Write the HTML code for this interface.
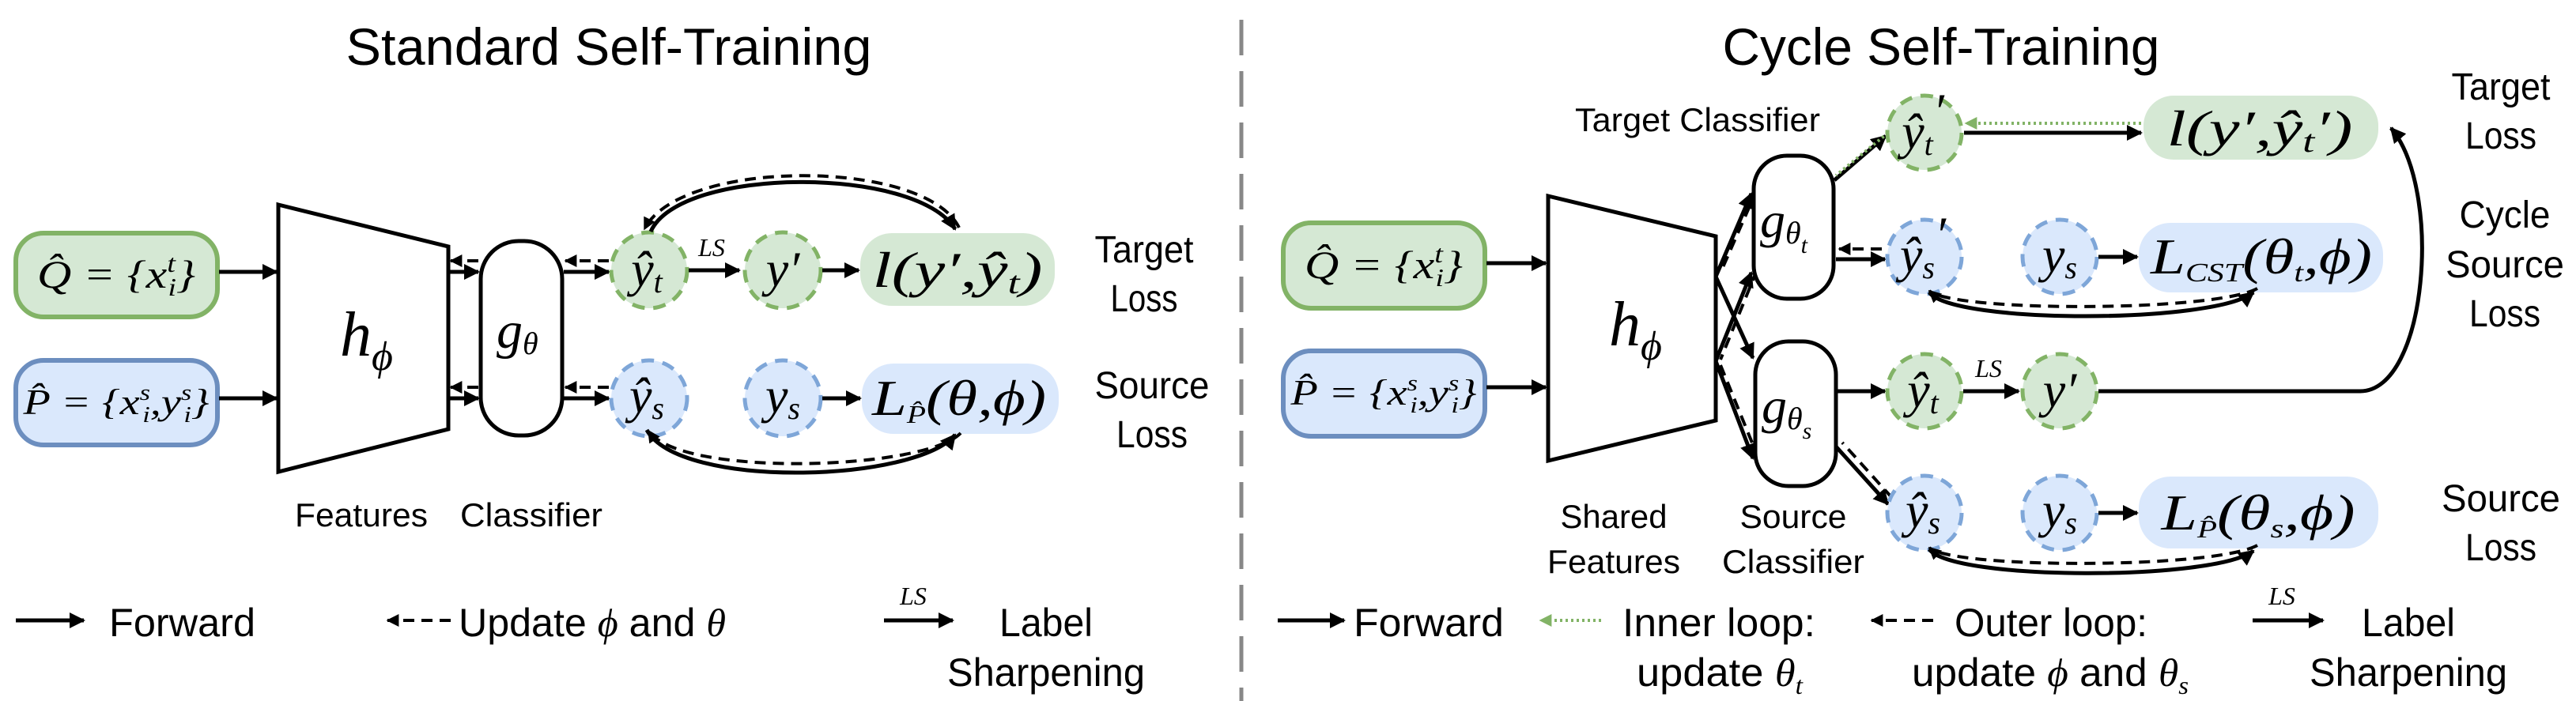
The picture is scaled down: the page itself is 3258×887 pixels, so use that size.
<!DOCTYPE html>
<html><head><meta charset="utf-8"><style>
html,body{margin:0;padding:0;background:#fff;}
svg{display:block;}
text{font-family:"Liberation Sans",sans-serif;fill:#000;}
.m{font-family:"Liberation Serif",serif;font-style:italic;}
</style></head><body>
<svg width="3258" height="887" viewBox="0 0 3258 887" xmlns="http://www.w3.org/2000/svg">
<defs>
<marker id="a" viewBox="0 0 10 10" refX="9" refY="5" markerWidth="4" markerHeight="4" orient="auto-start-reverse"><path d="M0,0 L10,5 L0,10 z" fill="#000"/></marker>
<marker id="g" viewBox="0 0 10 10" refX="9" refY="5" markerWidth="4" markerHeight="4" orient="auto-start-reverse"><path d="M0,0 L10,5 L0,10 z" fill="#82b366"/></marker>
</defs>
<style>
.ln{stroke:#000;stroke-width:5;fill:none;}
.dl{stroke:#000;stroke-width:4;fill:none;stroke-dasharray:14 9;}
.gc{fill:#d5e8d4;stroke:#82b366;stroke-width:5;stroke-dasharray:16 11;}
.bc{fill:#dae8fc;stroke:#7ea6d8;stroke-width:5;stroke-dasharray:16 11;}
</style>

<line x1="1570" y1="25" x2="1570" y2="887" stroke="#888" stroke-width="5" stroke-dasharray="45 20"/>

<!-- LEFT -->
<text x="770" y="82" font-size="66" text-anchor="middle" textLength="665" lengthAdjust="spacingAndGlyphs">Standard Self-Training</text>

<rect x="20" y="295" width="255" height="106" rx="35" fill="#d5e8d4" stroke="#82b366" stroke-width="6"/>
<text class="m" x="147" y="364" font-size="50" text-anchor="middle" textLength="200" lengthAdjust="spacingAndGlyphs">Q̂ = {x<tspan font-size="32" dy="-20">t</tspan><tspan font-size="32" dx="-8" dy="30">i</tspan><tspan dy="-10">}</tspan></text>
<rect x="20" y="456" width="255" height="107" rx="35" fill="#dae8fc" stroke="#6c8ebf" stroke-width="6"/>
<text class="m" x="147" y="524" font-size="46" text-anchor="middle" textLength="235" lengthAdjust="spacingAndGlyphs">P̂ = {x<tspan font-size="28" dy="-18">s</tspan><tspan font-size="28" dx="-8" dy="28">i</tspan><tspan dy="-10">,y</tspan><tspan font-size="28" dy="-18">s</tspan><tspan font-size="28" dx="-8" dy="28">i</tspan><tspan dy="-10">}</tspan></text>

<line class="ln" x1="277" y1="344" x2="350" y2="344" marker-end="url(#a)"/>
<line class="ln" x1="277" y1="504" x2="350" y2="504" marker-end="url(#a)"/>

<polygon points="352,259 567,312 567,543 352,597" fill="#fff" stroke="#000" stroke-width="5"/>
<text class="m" x="430" y="450" font-size="80">h<tspan font-size="52" dy="18">ϕ</tspan></text>

<line class="ln" x1="568" y1="344" x2="605" y2="344" marker-end="url(#a)"/>
<line class="dl" x1="605" y1="330" x2="570" y2="330" marker-end="url(#a)"/>
<line class="ln" x1="568" y1="504" x2="605" y2="504" marker-end="url(#a)"/>
<line class="dl" x1="605" y1="490" x2="570" y2="490" marker-end="url(#a)"/>

<rect x="608" y="305" width="103" height="246" rx="48" fill="#fff" stroke="#000" stroke-width="5"/>
<text class="m" x="628" y="440" font-size="66">g<tspan font-size="40" dy="8">θ</tspan></text>

<line class="ln" x1="713" y1="344" x2="770" y2="344" marker-end="url(#a)"/>
<line class="dl" x1="770" y1="330" x2="715" y2="330" marker-end="url(#a)"/>
<line class="ln" x1="713" y1="504" x2="770" y2="504" marker-end="url(#a)"/>
<line class="dl" x1="770" y1="490" x2="715" y2="490" marker-end="url(#a)"/>

<circle class="gc" cx="821" cy="342" r="48"/>
<text class="m" x="818" y="362" font-size="64" text-anchor="middle">ŷ<tspan font-size="40" dy="8">t</tspan></text>
<line class="ln" x1="871" y1="342" x2="935" y2="342" marker-end="url(#a)"/>
<text class="m" x="900" y="324" font-size="32" text-anchor="middle">LS</text>
<circle class="gc" cx="990" cy="342" r="48"/>
<text class="m" x="990" y="362" font-size="64" text-anchor="middle">y′</text>
<line class="ln" x1="1040" y1="342" x2="1086" y2="342" marker-end="url(#a)"/>
<rect x="1088" y="295" width="246" height="92" rx="40" fill="#d5e8d4"/>
<text class="m" x="1211" y="363" font-size="64" text-anchor="middle" textLength="215" lengthAdjust="spacingAndGlyphs">l(y′,ŷ<tspan font-size="40" dy="8">t</tspan><tspan dy="-8">)</tspan></text>
<text x="1447" y="332" font-size="48" text-anchor="middle" textLength="125" lengthAdjust="spacingAndGlyphs">Target</text>
<text x="1447" y="394" font-size="48" text-anchor="middle" textLength="85" lengthAdjust="spacingAndGlyphs">Loss</text>

<circle class="bc" cx="821" cy="504" r="48"/>
<text class="m" x="818" y="522" font-size="64" text-anchor="middle">ŷ<tspan font-size="40" dy="8">s</tspan></text>
<circle class="bc" cx="990" cy="504" r="48"/>
<text class="m" x="990" y="522" font-size="64" text-anchor="middle">y<tspan font-size="40" dy="8">s</tspan></text>
<line class="ln" x1="1040" y1="504" x2="1088" y2="504" marker-end="url(#a)"/>
<rect x="1090" y="460" width="249" height="89" rx="40" fill="#dae8fc"/>
<text class="m" x="1213" y="525" font-size="64" text-anchor="middle" textLength="220" lengthAdjust="spacingAndGlyphs">L<tspan font-size="32" dy="10">P̂</tspan><tspan dy="-10">(θ,ϕ)</tspan></text>
<text x="1457" y="504" font-size="48" text-anchor="middle" textLength="145" lengthAdjust="spacingAndGlyphs">Source</text>
<text x="1457" y="566" font-size="48" text-anchor="middle" textLength="90" lengthAdjust="spacingAndGlyphs">Loss</text>

<path class="ln" d="M823,293 C860,210 1160,210 1208,290" marker-end="url(#a)"/>
<path class="dl" d="M1213,288 C1170,200 860,200 815,290" marker-end="url(#a)"/>
<path class="ln" d="M818,544 C860,620 1160,610 1208,550" marker-end="url(#a)"/>
<path class="dl" d="M1215,548 C1170,595 860,605 820,545" marker-end="url(#a)"/>

<text x="457" y="666" font-size="42" text-anchor="middle" textLength="168" lengthAdjust="spacingAndGlyphs">Features</text>
<text x="672" y="666" font-size="42" text-anchor="middle" textLength="180" lengthAdjust="spacingAndGlyphs">Classifier</text>

<line class="ln" x1="20" y1="785" x2="106" y2="785" marker-end="url(#a)"/>
<text x="138" y="805" font-size="50" textLength="185" lengthAdjust="spacingAndGlyphs">Forward</text>
<line class="dl" x1="570" y1="785" x2="490" y2="785" marker-end="url(#a)"/>
<text x="580" y="805" font-size="50" textLength="338" lengthAdjust="spacingAndGlyphs">Update <tspan class="m">ϕ</tspan> and <tspan class="m">θ</tspan></text>
<line class="ln" x1="1118" y1="785" x2="1205" y2="785" marker-end="url(#a)"/>
<text class="m" x="1155" y="765" font-size="32" text-anchor="middle">LS</text>
<text x="1323" y="805" font-size="50" text-anchor="middle" textLength="118" lengthAdjust="spacingAndGlyphs">Label</text>
<text x="1323" y="868" font-size="50" text-anchor="middle" textLength="250" lengthAdjust="spacingAndGlyphs">Sharpening</text>

<!-- RIGHT -->
<text x="2455" y="82" font-size="66" text-anchor="middle" textLength="553" lengthAdjust="spacingAndGlyphs">Cycle Self-Training</text>

<rect x="1623" y="282" width="255" height="108" rx="35" fill="#d5e8d4" stroke="#82b366" stroke-width="6"/>
<text class="m" x="1750" y="352" font-size="50" text-anchor="middle" textLength="200" lengthAdjust="spacingAndGlyphs">Q̂ = {x<tspan font-size="32" dy="-20">t</tspan><tspan font-size="32" dx="-8" dy="30">i</tspan><tspan dy="-10">}</tspan></text>
<rect x="1623" y="444" width="255" height="108" rx="35" fill="#dae8fc" stroke="#6c8ebf" stroke-width="6"/>
<text class="m" x="1750" y="512" font-size="46" text-anchor="middle" textLength="235" lengthAdjust="spacingAndGlyphs">P̂ = {x<tspan font-size="28" dy="-18">s</tspan><tspan font-size="28" dx="-8" dy="28">i</tspan><tspan dy="-10">,y</tspan><tspan font-size="28" dy="-18">s</tspan><tspan font-size="28" dx="-8" dy="28">i</tspan><tspan dy="-10">}</tspan></text>

<line class="ln" x1="1880" y1="333" x2="1955" y2="333" marker-end="url(#a)"/>
<line class="ln" x1="1880" y1="490" x2="1955" y2="490" marker-end="url(#a)"/>

<polygon points="1958,248 2170,299 2170,532 1958,583" fill="#fff" stroke="#000" stroke-width="5"/>
<text class="m" x="2035" y="437" font-size="80">h<tspan font-size="52" dy="18">ϕ</tspan></text>

<line class="ln" x1="2170" y1="350" x2="2215" y2="245" marker-end="url(#a)"/>
<line class="dl" x1="2222" y1="240" x2="2176" y2="345"/>
<line class="ln" x1="2170" y1="350" x2="2217" y2="453" marker-end="url(#a)"/>
<line class="ln" x1="2170" y1="457" x2="2215" y2="345" marker-end="url(#a)"/>
<line class="dl" x1="2222" y1="342" x2="2176" y2="455"/>
<line class="ln" x1="2170" y1="457" x2="2217" y2="580" marker-end="url(#a)"/>
<line class="dl" x1="2176" y1="462" x2="2222" y2="575"/>

<rect x="2218" y="197" width="101" height="181" rx="42" fill="#fff" stroke="#000" stroke-width="5"/>
<text class="m" x="2226" y="300" font-size="64">g<tspan font-size="40" dy="8">θ</tspan><tspan font-size="30" dy="12">t</tspan></text>
<rect x="2220" y="432" width="102" height="183" rx="42" fill="#fff" stroke="#000" stroke-width="5"/>
<text class="m" x="2228" y="535" font-size="64">g<tspan font-size="40" dy="8">θ</tspan><tspan font-size="30" dy="12">s</tspan></text>

<line class="ln" x1="2320" y1="228" x2="2385" y2="172" marker-end="url(#a)"/>
<line x1="2388" y1="168" x2="2322" y2="222" stroke="#82b366" stroke-width="4" stroke-dasharray="3 4"/>
<line class="ln" x1="2322" y1="328" x2="2384" y2="328" marker-end="url(#a)"/>
<line class="dl" x1="2380" y1="315" x2="2326" y2="315" marker-end="url(#a)"/>
<line class="ln" x1="2323" y1="495" x2="2384" y2="495" marker-end="url(#a)"/>
<line class="ln" x1="2322" y1="565" x2="2388" y2="638" marker-end="url(#a)"/>
<line class="dl" x1="2393" y1="630" x2="2330" y2="560"/>

<circle class="gc" cx="2434" cy="168" r="47"/>
<text class="m" x="2432" y="188" font-size="64" text-anchor="middle">ŷ<tspan font-size="40" dy="8">t</tspan><tspan dy="-34">′</tspan></text>
<line class="ln" x1="2484" y1="168" x2="2708" y2="168" marker-end="url(#a)"/>
<line x1="2708" y1="156" x2="2486" y2="156" stroke="#82b366" stroke-width="4" stroke-dasharray="3 4" marker-end="url(#g)"/>
<rect x="2711" y="121" width="297" height="81" rx="38" fill="#d5e8d4"/>
<text class="m" x="2858" y="184" font-size="64" text-anchor="middle" textLength="235" lengthAdjust="spacingAndGlyphs">l(y′,ŷ<tspan font-size="40" dy="8">t</tspan><tspan dy="-8">′)</tspan></text>
<text x="3163" y="126" font-size="48" text-anchor="middle" textLength="125" lengthAdjust="spacingAndGlyphs">Target</text>
<text x="3163" y="188" font-size="48" text-anchor="middle" textLength="90" lengthAdjust="spacingAndGlyphs">Loss</text>

<circle class="bc" cx="2434" cy="325" r="47"/>
<text class="m" x="2432" y="344" font-size="64" text-anchor="middle">ŷ<tspan font-size="40" dy="8">s</tspan><tspan dy="-34">′</tspan></text>
<circle class="bc" cx="2605" cy="325" r="47"/>
<text class="m" x="2605" y="344" font-size="64" text-anchor="middle">y<tspan font-size="40" dy="8">s</tspan></text>
<line class="ln" x1="2654" y1="325" x2="2703" y2="325" marker-end="url(#a)"/>
<rect x="2705" y="282" width="309" height="88" rx="40" fill="#dae8fc"/>
<text class="m" x="2860" y="346" font-size="64" text-anchor="middle" textLength="280" lengthAdjust="spacingAndGlyphs">L<tspan font-size="34" dy="10">CST</tspan><tspan dy="-10">(θ</tspan><tspan font-size="34" dy="10">t</tspan><tspan dy="-10">,ϕ)</tspan></text>
<path class="ln" d="M2440,370 C2470,410 2800,410 2850,370" marker-end="url(#a)"/>
<path class="dl" d="M2855,365 C2800,395 2470,395 2440,368" marker-end="url(#a)"/>
<text x="3168" y="288" font-size="48" text-anchor="middle" textLength="115" lengthAdjust="spacingAndGlyphs">Cycle</text>
<text x="3168" y="351" font-size="48" text-anchor="middle" textLength="150" lengthAdjust="spacingAndGlyphs">Source</text>
<text x="3168" y="413" font-size="48" text-anchor="middle" textLength="90" lengthAdjust="spacingAndGlyphs">Loss</text>

<circle class="gc" cx="2434" cy="495" r="47"/>
<text class="m" x="2432" y="515" font-size="64" text-anchor="middle">ŷ<tspan font-size="40" dy="8">t</tspan></text>
<line class="ln" x1="2483" y1="495" x2="2553" y2="495" marker-end="url(#a)"/>
<text class="m" x="2515" y="477" font-size="32" text-anchor="middle">LS</text>
<circle class="gc" cx="2605" cy="495" r="47"/>
<text class="m" x="2605" y="515" font-size="64" text-anchor="middle">y′</text>
<path class="ln" d="M2654,495 L2985,495 C3070,495 3090,240 3024,162" marker-end="url(#a)"/>

<circle class="bc" cx="2434" cy="649" r="47"/>
<text class="m" x="2432" y="667" font-size="64" text-anchor="middle">ŷ<tspan font-size="40" dy="8">s</tspan></text>
<circle class="bc" cx="2605" cy="649" r="47"/>
<text class="m" x="2605" y="667" font-size="64" text-anchor="middle">y<tspan font-size="40" dy="8">s</tspan></text>
<line class="ln" x1="2654" y1="649" x2="2703" y2="649" marker-end="url(#a)"/>
<rect x="2705" y="603" width="303" height="91" rx="40" fill="#dae8fc"/>
<text class="m" x="2856" y="670" font-size="64" text-anchor="middle" textLength="245" lengthAdjust="spacingAndGlyphs">L<tspan font-size="32" dy="10">P̂</tspan><tspan dy="-10">(θ</tspan><tspan font-size="34" dy="10">s</tspan><tspan dy="-10">,ϕ)</tspan></text>
<path class="ln" d="M2440,695 C2470,735 2800,735 2850,697" marker-end="url(#a)"/>
<path class="dl" d="M2855,690 C2800,720 2470,720 2440,693" marker-end="url(#a)"/>
<text x="3163" y="647" font-size="48" text-anchor="middle" textLength="150" lengthAdjust="spacingAndGlyphs">Source</text>
<text x="3163" y="709" font-size="48" text-anchor="middle" textLength="90" lengthAdjust="spacingAndGlyphs">Loss</text>

<text x="2147" y="166" font-size="42" text-anchor="middle" textLength="310" lengthAdjust="spacingAndGlyphs">Target Classifier</text>
<text x="2041" y="668" font-size="42" text-anchor="middle" textLength="135" lengthAdjust="spacingAndGlyphs">Shared</text>
<text x="2041" y="725" font-size="42" text-anchor="middle" textLength="168" lengthAdjust="spacingAndGlyphs">Features</text>
<text x="2268" y="668" font-size="42" text-anchor="middle" textLength="135" lengthAdjust="spacingAndGlyphs">Source</text>
<text x="2268" y="725" font-size="42" text-anchor="middle" textLength="180" lengthAdjust="spacingAndGlyphs">Classifier</text>

<line class="ln" x1="1616" y1="785" x2="1700" y2="785" marker-end="url(#a)"/>
<text x="1712" y="805" font-size="50" textLength="190" lengthAdjust="spacingAndGlyphs">Forward</text>
<line x1="2025" y1="785" x2="1948" y2="785" stroke="#82b366" stroke-width="4" stroke-dasharray="3 4" marker-end="url(#g)"/>
<text x="2052" y="805" font-size="50" textLength="244" lengthAdjust="spacingAndGlyphs">Inner loop:</text>
<text x="2070" y="868" font-size="50" textLength="210" lengthAdjust="spacingAndGlyphs">update <tspan class="m">θ</tspan><tspan class="m" font-size="32" dy="10">t</tspan></text>
<line class="dl" x1="2445" y1="785" x2="2367" y2="785" marker-end="url(#a)"/>
<text x="2472" y="805" font-size="50" textLength="244" lengthAdjust="spacingAndGlyphs">Outer loop:</text>
<text x="2418" y="868" font-size="50" textLength="350" lengthAdjust="spacingAndGlyphs">update <tspan class="m">ϕ</tspan> and <tspan class="m">θ</tspan><tspan class="m" font-size="32" dy="10">s</tspan></text>
<line class="ln" x1="2849" y1="785" x2="2938" y2="785" marker-end="url(#a)"/>
<text class="m" x="2886" y="765" font-size="32" text-anchor="middle">LS</text>
<text x="3046" y="805" font-size="50" text-anchor="middle" textLength="118" lengthAdjust="spacingAndGlyphs">Label</text>
<text x="3046" y="868" font-size="50" text-anchor="middle" textLength="250" lengthAdjust="spacingAndGlyphs">Sharpening</text>
</svg>
</body></html>
